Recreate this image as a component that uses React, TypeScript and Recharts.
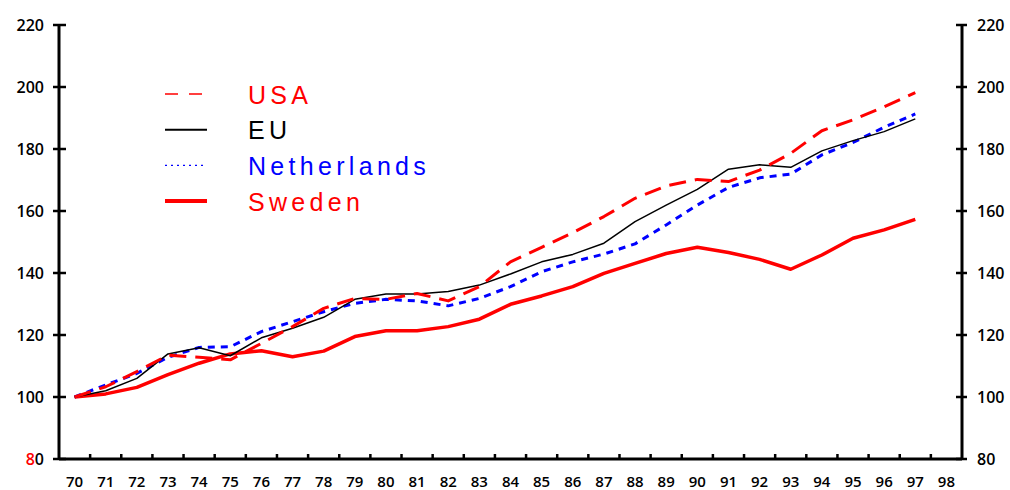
import React from 'react';
import { LineChart, Line, XAxis, YAxis } from 'recharts';

const years = ['70','71','72','73','74','75','76','77','78','79','80','81','82','83','84','85','86','87','88','89','90','91','92','93','94','95','96','97','98'];
const usa = [100,103.3,108.2,113.5,112.8,112.0,117.3,122.7,128.6,131.8,131.5,133.4,131.0,135.6,143.6,148.3,153.0,158.2,164.1,168.1,170.2,169.5,173.2,178.6,185.9,189.4,193.6,198.2,null];
const eu = [100,102.0,106.0,113.9,115.9,113.3,119.1,122.2,125.7,131.5,133.2,133.2,134.0,136.1,139.7,143.6,146.0,149.6,156.6,161.9,167.0,173.5,174.9,174.1,179.4,182.7,185.6,189.7,null];
const netherlands = [100,103.9,107.6,112.8,116.0,116.2,121.1,124.3,127.5,130.2,131.5,131.0,129.4,131.8,135.6,140.4,143.6,146.1,149.4,155.5,161.9,167.6,170.7,171.9,178.1,182.1,187.0,191.3,null];
const sweden = [100,101.0,103.1,107.2,110.9,113.9,114.9,113.0,114.8,119.5,121.4,121.4,122.7,125.1,129.9,132.6,135.6,139.9,143.1,146.3,148.3,146.6,144.4,141.2,145.8,151.2,153.9,157.3,null];
const yTicks = [80,100,120,140,160,180,200,220];

const seriesNames = ['USA', 'EU', 'Netherlands', 'Sweden'];

const data = years.map((y, i) => ({
  year: y,
  USA: usa[i],
  EU: eu[i],
  Netherlands: netherlands[i],
  Sweden: sweden[i],
}));

const W = 1010;
const H = 490;
const LEFT_W = 59;
const RIGHT_W = 48;
const TOP = 25;
const X_H = 31;
const plotW = W - LEFT_W - RIGHT_W;
const step = plotW / years.length;

const styles: Record<string, any> = {
  USA: { stroke: '#ff0000', strokeWidth: 3, strokeDasharray: '17 9', legendWidth: 1.5, legendDash: '13 11', text: '#ff0000' },
  EU: { stroke: '#000000', strokeWidth: 1.5, legendWidth: 2, text: '#000000' },
  Netherlands: { stroke: '#0000ff', strokeWidth: 3, strokeDasharray: '7 6', legendWidth: 1.3, legendDash: '2 4', text: '#0000ff' },
  Sweden: { stroke: '#ff0000', strokeWidth: 3.5, legendWidth: 4, text: '#ff0000' },
};

const tickFont = { fontFamily: '"Open Sans", "DejaVu Sans", sans-serif', fontWeight: 600, fontSize: 16 };

const LeftTick = (props: any) => {
  const { x, y, payload } = props;
  const v = payload.value;
  return (
    <g>
      <line x1={x - 6} x2={x + 7} y1={y} y2={y} stroke="#000" strokeWidth={2.5} />
      <text x={x - 15} y={y} textAnchor="end" dominantBaseline="central" {...tickFont} fill="#000">
        {v === 80 ? (<><tspan fill="#ff0000">8</tspan><tspan fill="#000">0</tspan></>) : String(v)}
      </text>
    </g>
  );
};

const RightTick = (props: any) => {
  const { x, y, payload } = props;
  return (
    <g>
      <line x1={x - 6} x2={x + 5} y1={y} y2={y} stroke="#000" strokeWidth={2.5} />
      <text x={x + 15} y={y} textAnchor="start" dominantBaseline="central" {...tickFont} fill="#000">
        {String(payload.value)}
      </text>
    </g>
  );
};

const BottomTick = (props: any) => {
  const { x, y, payload, index } = props;
  const bx = x - step / 2;
  return (
    <g>
      {index > 0 && <line x1={bx} x2={bx} y1={y - 5} y2={y} stroke="#000" strokeWidth={2.5} />}
      <text x={x} y={y + 28} textAnchor="middle" {...tickFont} fontSize={15} fill="#000">
        {payload.value}
      </text>
    </g>
  );
};

const LegendOverlay = () => {
  const x0 = 165;
  const x1 = 207;
  const tx = 248;
  const y0 = 94;
  const dy = 35.7;
  return (
    <svg width={W} height={H} style={{ position: 'absolute', left: 0, top: 0, pointerEvents: 'none' }}>
      {seriesNames.map((n, i) => {
        const s = styles[n];
        const y = y0 + i * dy;
        return (
          <g key={n}>
            <line x1={x0} x2={x1} y1={y} y2={y} stroke={s.stroke} strokeWidth={s.legendWidth} strokeDasharray={s.legendDash} />
            <text x={tx} y={y + 9.5} fill={s.text} fontFamily='"Liberation Sans", Arial, sans-serif' fontSize={25} letterSpacing={4.3}>
              {n}
            </text>
          </g>
        );
      })}
    </svg>
  );
};

export default function App() {
  return (
    <div style={{ position: 'absolute', left: 0, top: 0, width: W, height: H, background: '#fff' }}>
      <LineChart width={W} height={H} data={data} margin={{ top: TOP, right: 0, bottom: 0, left: 0 }}>
        <XAxis
          dataKey="year"
          height={X_H}
          padding={{ left: step / 2, right: step / 2 }}
          interval={0}
          tickSize={0}
          tickMargin={0}
          tickLine={false}
          axisLine={{ stroke: '#000', strokeWidth: 3 }}
          tick={<BottomTick />}
        />
        <YAxis
          yAxisId="left"
          width={LEFT_W}
          domain={[80, 220]}
          ticks={yTicks}
          interval={0}
          tickSize={0}
          tickMargin={0}
          tickLine={false}
          axisLine={{ stroke: '#000', strokeWidth: 3 }}
          tick={<LeftTick />}
          allowDataOverflow
        />
        <YAxis
          yAxisId="right"
          orientation="right"
          width={RIGHT_W}
          domain={[80, 220]}
          ticks={yTicks}
          interval={0}
          tickSize={0}
          tickMargin={0}
          tickLine={false}
          axisLine={{ stroke: '#000', strokeWidth: 3 }}
          tick={<RightTick />}
          allowDataOverflow
        />
        {seriesNames.slice().reverse().map((n) => (
          <Line
            key={n}
            yAxisId="left"
            type="linear"
            dataKey={n}
            stroke={styles[n].stroke}
            strokeWidth={styles[n].strokeWidth}
            strokeDasharray={styles[n].strokeDasharray}
            dot={false}
            activeDot={false}
            isAnimationActive={false}
            connectNulls={false}
            strokeLinejoin="round"
          />
        ))}
      </LineChart>
      <LegendOverlay />
    </div>
  );
}
